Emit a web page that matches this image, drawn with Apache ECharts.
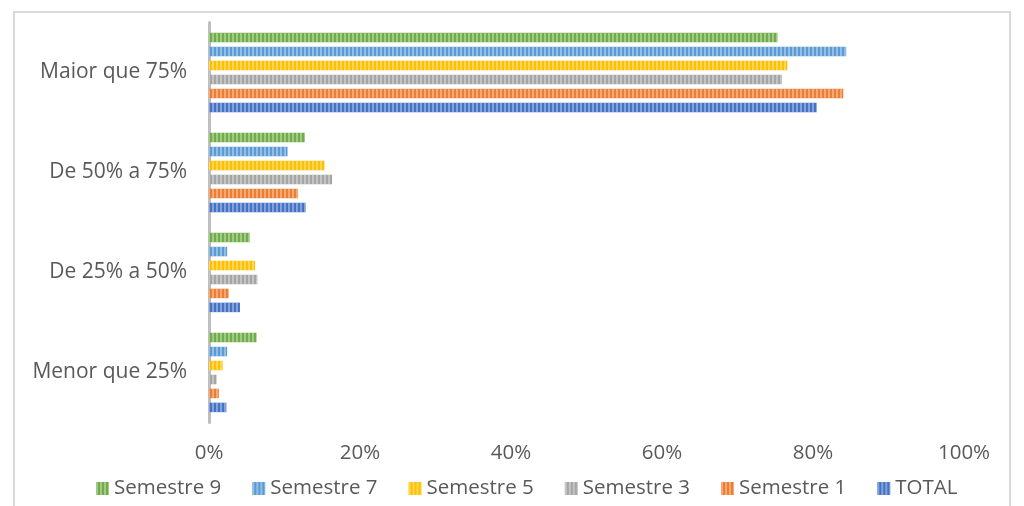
<!DOCTYPE html>
<html lang="pt">
  <head>
    <meta charset="UTF-8" />
    <title>Chart</title>
    <script src="https://cdn.jsdelivr.net/npm/echarts@6/dist/echarts.min.js"></script>
    <style>
      html, body { margin: 0; padding: 0; background: #fff; }
      #main { width: 1024px; height: 506px; }
    </style>
  </head>
  <body>
    <div id="main"></div>
    <script>
      // categorias (de baixo para cima)
      var categories = ["Menor que 25%", "De 25% a 50%", "De 50% a 75%", "Maior que 75%"];
      var xTicks = ["0%", "20%", "40%", "60%", "80%", "100%"];

      // valores em %, mesma ordem das categorias
      var sem9 = [6.3, 5.4, 12.7, 75.3];
      var sem7 = [2.4, 2.4, 10.4, 84.4];
      var sem5 = [1.8, 6.1, 15.3, 76.6];
      var sem3 = [1.0, 6.4, 16.3, 75.9];
      var sem1 = [1.3, 2.6, 11.8, 84.0];
      var total = [2.3, 4.1, 12.8, 80.5];

      var names = ["Semestre 9", "Semestre 7", "Semestre 5", "Semestre 3", "Semestre 1", "TOTAL"];
      var colors = ["#70ad47", "#5b9bd5", "#ffc000", "#a5a5a5", "#ed7d31", "#4472c4"];
      var values = [sem9, sem7, sem5, sem3, sem1, total];

      // listras verticais como no Excel
      var stripes = {
        symbol: "rect",
        symbolSize: 1,
        dashArrayX: [1.5, 2],
        dashArrayY: [10, 0],
        color: "rgba(255,255,255,0.35)"
      };

      var series = names.map(function (n, i) {
        return {
          name: n,
          type: "bar",
          data: values[i],
          barWidth: 9.5,
          barGap: "47%",
          itemStyle: { color: colors[i], decal: stripes }
        };
      });

      var chart = echarts.init(document.getElementById("main"));
      chart.setOption({
        animation: false,
        textStyle: { fontFamily: "Open Sans" },
        graphic: [{
          type: "rect",
          shape: { x: 14, y: 12, width: 996, height: 510 },
          style: { fill: "none", stroke: "#d9d9d9", lineWidth: 2 },
          silent: true
        }],
        grid: { left: 209, right: 60, top: 22.5, bottom: 83.5, containLabel: false },
        xAxis: {
          type: "value",
          min: 0,
          max: 100,
          interval: 20,
          axisLine: { show: false },
          axisTick: { show: false },
          splitLine: { show: false },
          axisLabel: {
            color: "#595959",
            fontSize: 20.5,
            margin: 20,
            formatter: function (v) { return xTicks[v / 20]; }
          }
        },
        yAxis: {
          type: "category",
          data: categories,
          axisLine: { show: true, lineStyle: { color: "#bfbfbf", width: 3 } },
          axisTick: { show: false },
          axisLabel: { color: "#595959", fontSize: 21, margin: 22 }
        },
        legend: {
          data: names,
          bottom: 2,
          left: 91,
          itemWidth: 13,
          itemHeight: 13,
          itemGap: 31,
          icon: "rect",
          textStyle: { color: "#595959", fontSize: 20.5 }
        },
        series: series
      });
    </script>
  </body>
</html>
